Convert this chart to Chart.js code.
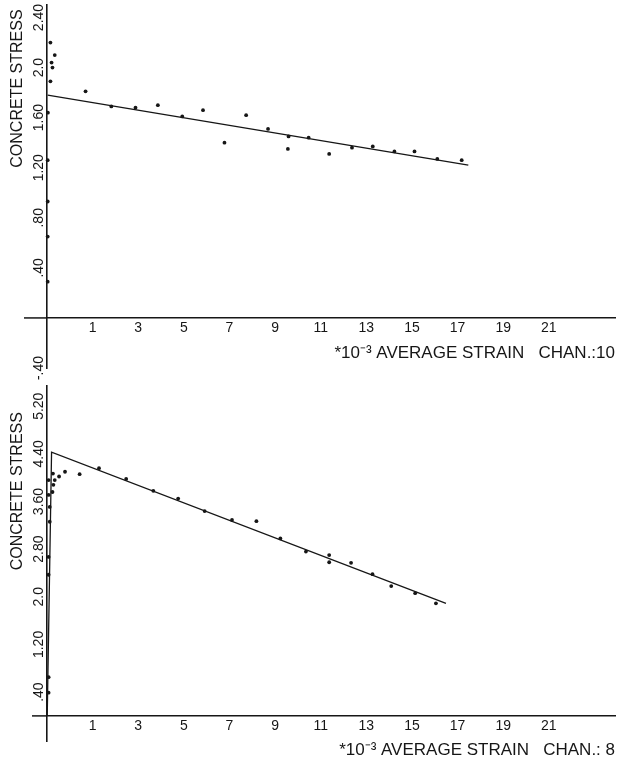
<!DOCTYPE html>
<html>
<head>
<meta charset="utf-8">
<script src="https://cdn.jsdelivr.net/npm/chart.js@4.4.1/dist/chart.umd.min.js"></script>
<style>
  html, body { margin: 0; padding: 0; background: #fff; }
  #wrap { position: relative; width: 617px; height: 765px; }
  canvas { position: absolute; left: 0; }
  #c1 { top: 0; }
  #c2 { top: 383px; }
</style>
</head>
<body>
<div id="wrap">
  <canvas id="c1" width="617" height="392"></canvas>
  <canvas id="c2" width="617" height="382"></canvas>
</div>
<script>
// ---- data (strain in 10^-3, stress) ----
const xTickValues = [1, 3, 5, 7, 9, 11, 13, 15, 17, 19, 21];

const topStrain = [-0.97, -0.97, -0.97, -0.97, -0.96, -0.85, -0.80, -0.76, -0.66, -0.85,
  0.69, 1.82, 2.88, 3.86, 4.93, 5.84, 6.78, 7.73, 8.69, 9.59, 9.56, 10.47, 11.37,
  12.37, 13.28, 14.23, 15.11, 16.11, 17.18];
const topStress = [0.29, 0.65, 0.93, 1.26, 1.64, 1.89, 2.04, 2.00, 2.10, 2.20,
  1.81, 1.69, 1.68, 1.70, 1.61, 1.66, 1.40, 1.62, 1.51, 1.45, 1.35, 1.44, 1.31,
  1.36, 1.37, 1.33, 1.33, 1.27, 1.26];
const topFitStrain = [-0.97, 17.47];
const topFitStress = [1.78, 1.22];
const topYTickValues = [-0.4, 0.4, 0.8, 1.2, 1.6, 2.0, 2.4];
const topYTickLabels = ['-.40', '.40', '.80', '1.20', '1.60', '2.0', '2.40'];

const bottomStrain = [-0.93, -0.93, -0.93, -0.93, -0.88, -0.88, -0.93, -0.93, -0.76, -0.72,
  -0.66, -0.74, -0.47, -0.21, 0.43, 1.28, 2.47, 3.66, 4.75, 5.91, 7.11, 8.18, 9.23,
  10.35, 11.37, 11.37, 12.33, 13.27, 14.09, 15.14, 16.05];
const bottomStress = [0.39, 0.65, 2.37, 2.67, 3.26, 3.51, 3.71, 3.96, 3.76, 3.88,
  3.96, 4.07, 4.02, 4.10, 4.06, 4.16, 3.98, 3.78, 3.65, 3.44, 3.29, 3.27, 2.98,
  2.76, 2.70, 2.58, 2.57, 2.38, 2.18, 2.06, 1.89];
const bottomFitStrain = [-0.99, -0.80, 16.49];
const bottomFitStress = [0.0, 4.43, 1.89];
const bottomYTickValues = [0.4, 1.2, 2.0, 2.8, 3.6, 4.4, 5.2];
const bottomYTickLabels = ['.40', '1.20', '2.0', '2.80', '3.60', '4.40', '5.20'];

// ---- helpers ----
const INK = '#161616';
const FONT = "'Liberation Sans', Arial, sans-serif";
const toPts = (xs, ys) => xs.map((x, i) => ({ x: x, y: ys[i] }));

const axisExtend = {
  id: 'axisExtend',
  afterDraw(chart, args, opts) {
    const ctx = chart.ctx;
    const y0 = chart.scales.y.getPixelForValue(0);
    ctx.save();
    ctx.strokeStyle = INK;
    ctx.lineWidth = 1.5;
    ctx.beginPath();
    ctx.moveTo(opts.from, y0);
    ctx.lineTo(chart.chartArea.left, y0);
    ctx.stroke();
    ctx.restore();
  }
};

function makeChart(id, cfg) {
  return new Chart(document.getElementById(id), {
    type: 'scatter',
    data: {
      datasets: [
        {
          data: toPts(cfg.strain, cfg.stress),
          showLine: false,
          pointRadius: 1.9,
          pointHoverRadius: 1.9,
          pointBackgroundColor: INK,
          pointBorderWidth: 0,
          clip: false
        },
        {
          data: toPts(cfg.fitStrain, cfg.fitStress),
          showLine: true,
          borderColor: INK,
          borderWidth: 1.3,
          pointRadius: 0,
          fill: false,
          tension: 0,
          clip: false
        }
      ]
    },
    options: {
      responsive: false,
      animation: false,
      events: [],
      layout: { padding: { left: 0, right: 2, top: cfg.padTop, bottom: cfg.padBottom } },
      plugins: {
        legend: { display: false },
        tooltip: { enabled: false },
        axisExtend: { from: cfg.extendFrom }
      },
      scales: {
        x: {
          type: 'linear',
          position: { y: 0 },
          min: -1,
          max: 23.9,
          afterBuildTicks: s => { s.ticks = xTickValues.map(v => ({ value: v })); },
          afterFit: s => { s.height = cfg.xHeight; },
          grid: { display: false, drawTicks: false },
          border: { display: true, color: INK, width: 1.5 },
          ticks: { color: INK, font: { family: FONT, size: 14 }, padding: 2, maxRotation: 0, minRotation: 0 },
          title: {
            display: true,
            text: cfg.xTitle,
            align: 'end',
            color: INK,
            font: { family: FONT, size: 17 },
            padding: { top: 0, bottom: cfg.xTitlePadBottom }
          }
        },
        y: {
          type: 'linear',
          position: 'left',
          min: cfg.yMin,
          max: cfg.yMax,
          afterBuildTicks: s => { s.ticks = cfg.yTicks.map(v => ({ value: v })); },
          afterFit: s => { s.width = 47; },
          grid: { display: false, drawTicks: false },
          border: { display: true, color: INK, width: 1.6 },
          ticks: {
            color: INK,
            font: { family: FONT, size: 14 },
            minRotation: 90,
            maxRotation: 90,
            crossAlign: 'center',
            padding: -6,
            callback: (v, i) => cfg.yLabels[i]
          },
          title: {
            display: true,
            text: cfg.yTitle,
            align: 'end',
            color: INK,
            font: { family: FONT, size: 16 },
            padding: { top: 7.5, bottom: 0 }
          }
        }
      }
    },
    plugins: [axisExtend]
  });
}

makeChart('c1', {
  strain: topStrain, stress: topStress,
  fitStrain: topFitStrain, fitStress: topFitStress,
  yMin: -0.4, yMax: 2.5, yTicks: topYTickValues, yLabels: topYTickLabels,
  padTop: 5, padBottom: 24, xHeight: 15, xTitlePadBottom: -31,
  extendFrom: 24,
  xTitle: '*10\u207B\u00B3 AVERAGE STRAIN   CHAN.:10',
  yTitle: 'CONCRETE STRESS '
});

makeChart('c2', {
  strain: bottomStrain, stress: bottomStress,
  fitStrain: bottomFitStrain, fitStress: bottomFitStress,
  yMin: -0.43, yMax: 5.55, yTicks: bottomYTickValues, yLabels: bottomYTickLabels,
  padTop: 2, padBottom: 23.5, xHeight: 23.5, xTitlePadBottom: -21,
  extendFrom: 32,
  xTitle: '*10\u207B\u00B3 AVERAGE STRAIN   CHAN.: 8',
  yTitle: 'CONCRETE STRESS      '
});
</script>
</body>
</html>
